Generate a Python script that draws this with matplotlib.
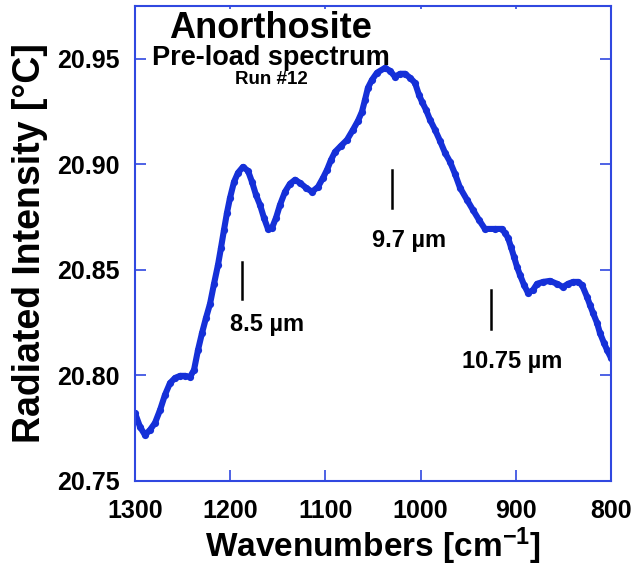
import matplotlib
matplotlib.use("Agg")
import matplotlib.pyplot as plt

plt.rcParams['font.family'] = ['Liberation Sans', 'DejaVu Sans']
plt.rcParams['font.weight'] = 'bold'
plt.rcParams['mathtext.fontset'] = 'custom'
plt.rcParams['mathtext.rm'] = 'Liberation Sans:bold'
plt.rcParams['mathtext.default'] = 'rm'

# spectrum (wavenumber cm^-1, radiated intensity degC)
wavenumber = [1300, 1294.7, 1289.5, 1284.2, 1279.0, 1273.7, 1268.5, 1263.2, 1258.0, 1252.7,
              1247.5, 1242.2, 1238.0, 1233.8, 1229.6, 1225.4, 1221.2, 1217.0, 1212.8, 1209.7,
              1206.5, 1203.4, 1200.2, 1196.0, 1191.8, 1186.6, 1181.3, 1177.1, 1172.9, 1168.7,
              1164.5, 1160.3, 1156.1, 1151.9, 1147.7, 1142.4, 1137.2, 1131.9, 1126.7, 1120.4,
              1114.1, 1107.8, 1102.5, 1098.3, 1094.1, 1089.9, 1083.6, 1077.3, 1071.0, 1065.8,
              1061.6, 1058.4, 1055.3, 1051.1, 1045.8, 1037.4, 1032.1, 1026.9, 1021.6, 1016.4,
              1011.1, 1005.9, 1001.7, 998.5, 994.3, 990.1, 984.9, 979.6, 974.4, 969.1,
              963.9, 958.6, 951.3, 945.0, 938.7, 932.4, 921.9, 914.5, 911.4, 908.2,
              905.1, 901.9, 898.7, 895.6, 891.4, 887.2, 881.9, 877.7, 871.4, 864.1,
              856.7, 850.4, 845.2, 839.9, 834.7, 830.5, 825.2, 822.1, 818.9, 814.7,
              811.6, 807.4, 804.2, 800.0]
intensity = [20.7822, 20.7756, 20.7718, 20.7742, 20.7775, 20.7836, 20.7908, 20.7964, 20.7988, 20.7998,
             20.7998, 20.7993, 20.8026, 20.8121, 20.8201, 20.8273, 20.8339, 20.8434, 20.8524, 20.8604,
             20.8690, 20.8770, 20.8841, 20.8917, 20.8960, 20.8988, 20.8969, 20.8917, 20.8855, 20.8808,
             20.8746, 20.8694, 20.8699, 20.8746, 20.8808, 20.8870, 20.8908, 20.8927, 20.8912, 20.8889,
             20.8870, 20.8893, 20.8936, 20.8974, 20.9021, 20.9059, 20.9088, 20.9116, 20.9164, 20.9206,
             20.9249, 20.9306, 20.9363, 20.9400, 20.9434, 20.9457, 20.9443, 20.9415, 20.9429, 20.9429,
             20.9410, 20.9386, 20.9329, 20.9296, 20.9258, 20.9211, 20.9164, 20.9111, 20.9055, 20.9012,
             20.8955, 20.8889, 20.8832, 20.8784, 20.8737, 20.8694, 20.8694, 20.8694, 20.8675, 20.8652,
             20.8609, 20.8562, 20.8514, 20.8476, 20.8429, 20.8391, 20.8405, 20.8434, 20.8443, 20.8448,
             20.8434, 20.8419, 20.8434, 20.8443, 20.8443, 20.8429, 20.8372, 20.8334, 20.8296, 20.8249,
             20.8201, 20.8154, 20.8121, 20.8083]

# band markers: label, wavenumber of tick mark, tick y range, label position
band_labels = ['8.5 \u00b5m', '9.7 \u00b5m', '10.75 \u00b5m']
band_wn = [1188, 1030, 926]
band_lo = [20.836, 20.8794, 20.822]
band_hi = [20.8538, 20.8974, 20.8405]
label_wn = [1161, 1012, 904]
label_y = [20.824, 20.8637, 20.8064]

xticks = [1300, 1200, 1100, 1000, 900, 800]
yticks = [20.75, 20.80, 20.85, 20.90, 20.95]

blue = '#1530d8'
axis_blue = '#3048e0'

fig = plt.figure(figsize=(6.32, 5.68), dpi=100)
ax = fig.add_axes([0.2136, 0.1532, 0.7532, 0.8362])

ax.plot(wavenumber, intensity, '-', color=blue, lw=4.4, solid_capstyle='round')
ax.plot(wavenumber, intensity, 'o', color=blue, ms=5.2, mew=0)

for wn, lo, hi in zip(band_wn, band_lo, band_hi):
    ax.plot([wn, wn], [lo, hi], color='black', lw=1.8)
for lab, x, y in zip(band_labels, label_wn, label_y):
    ax.text(x, y, lab, ha='center', va='center', fontsize=17, fontweight='bold')

ax.set_xlim(1300, 800)
ax.set_ylim(20.75, 20.975)
ax.set_xticks(xticks)
ax.set_xticklabels([str(t) for t in xticks])
ax.set_yticks(yticks)
ax.set_yticklabels(['%.2f' % t for t in yticks])

ax.tick_params(axis='both', direction='in', length=8, width=1.2, color=axis_blue,
               labelsize=18, pad=11, right=True)
ax.tick_params(axis='x', top=True, pad=13)
# top ticks are only tiny nubs in the original
for t in ax.xaxis.get_major_ticks():
    t.tick2line.set_markersize(2)
for sp in ax.spines.values():
    sp.set_color(axis_blue)
    sp.set_linewidth(1.5)
for lab in ax.get_xticklabels() + ax.get_yticklabels():
    lab.set_fontweight('bold')

ax.set_xlabel('Wavenumbers [cm$^{-1}$]', fontsize=24, fontweight='bold', va='baseline')
ax.xaxis.set_label_coords(0.5, -0.16)
ax.set_ylabel('Radiated Intensity [\u00b0C]', fontsize=27, fontweight='bold')
ax.yaxis.set_label_coords(-0.183, 0.5)

ax.text(0.2857, 0.953, 'Anorthosite', transform=ax.transAxes, ha='center', va='center',
        fontsize=26, fontweight='bold')
ax.text(0.2857, 0.89, 'Pre-load spectrum', transform=ax.transAxes, ha='center', va='center',
        fontsize=19.5, fontweight='bold')
ax.text(0.2857, 0.846, 'Run #12', transform=ax.transAxes, ha='center', va='center',
        fontsize=13.5, fontweight='bold')

fig.savefig('out.png', dpi=100)
